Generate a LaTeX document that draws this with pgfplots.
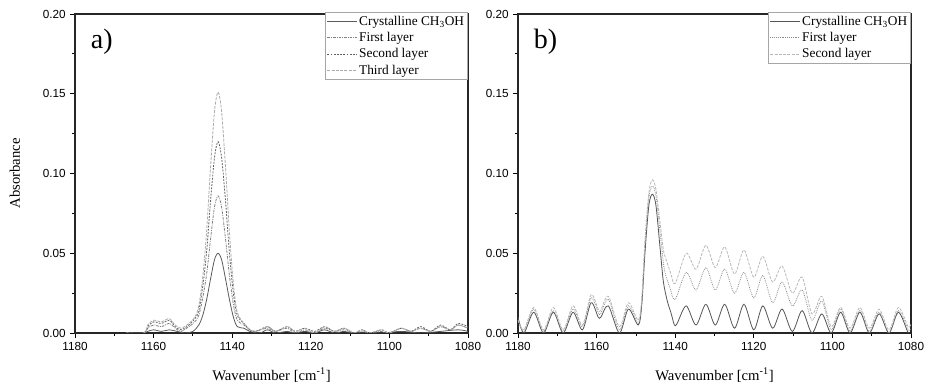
\documentclass[border=0pt]{standalone}
\usepackage{fontspec}
\setmainfont{Liberation Serif}
\newfontfamily\arialfont{Liberation Sans}
\usepackage{pgfplots}
\pgfplotsset{compat=1.18}
\usepackage{pgfplotstable}

\definecolor{cA}{HTML}{5A5A5A}
\definecolor{cB}{HTML}{808080}
\definecolor{cC}{HTML}{606060}
\definecolor{cD}{HTML}{ABABAB}
\definecolor{rA}{HTML}{555555}
\definecolor{rB}{HTML}{8A8A8A}
\definecolor{rC}{HTML}{B8B8B8}

% ---------- panel a ----------
\pgfplotstableread{
x y
1167 0
1162.5 0
1161.5 0.001
1160 0.002
1158 0.001
1156 0.002
1154 0.001
1152 0.000
1150 0.001
1148.5 0.005
1147.5 0.011
1146.5 0.021
1145.5 0.034
1144.5 0.046
1143.6 0.050
1142.7 0.046
1141.7 0.034
1140.7 0.021
1139.7 0.010
1138.7 0.004
1137 0.003
1135.5 0.001
1133 0.000
1131 0.002
1129 0.000
1126 0.001
1124 0.000
1121.5 0.001
1119 0.000
1116.5 0.002
1114 0.000
1111.5 0.001
1109 0.000
1102 0.000
1097 0.001
1092 0.000
1087 0.001
1082.5 0.002
1080 0.001
}\tAcry
\pgfplotstableread{
x y
1167 0
1162.5 0
1161.5 0.003
1160 0.005
1158 0.004
1156 0.006
1154.5 0.003
1153 0.001
1151 0.004
1149.5 0.007
1148.5 0.011
1147.5 0.022
1146.5 0.037
1145.5 0.059
1144.5 0.079
1143.6 0.086
1142.7 0.079
1141.7 0.059
1140.7 0.036
1139.7 0.018
1138.7 0.008
1137 0.005
1135.5 0.002
1134 0.001
1131 0.003
1129 0.001
1126 0.003
1124 0.000
1121.5 0.002
1119 0.000
1116.5 0.003
1114 0.001
1111.5 0.002
1109 0.000
1107 0.001
1105 0.000
1102 0.001
1100 0.000
1097 0.003
1094.5 0.001
1092 0.003
1089.5 0.001
1087 0.004
1084.5 0.002
1082.5 0.005
1080 0.003
}\tAfirst
\pgfplotstableread{
x y
1167 0
1162.5 0
1161.5 0.004
1160 0.007
1158 0.006
1156 0.008
1154.5 0.004
1153 0.002
1151 0.005
1149.5 0.009
1148.5 0.014
1147.5 0.029
1146.5 0.051
1145.5 0.083
1144.5 0.110
1143.6 0.120
1142.7 0.110
1141.7 0.083
1140.7 0.050
1139.7 0.025
1138.7 0.011
1137 0.006
1135.5 0.002
1134 0.001
1131 0.004
1129 0.001
1126 0.004
1124 0.001
1121.5 0.003
1119 0.001
1116.5 0.004
1114 0.001
1111.5 0.003
1109 0.000
1107 0.002
1105 0.000
1102 0.002
1100 0.000
1097 0.003
1094.5 0.001
1092 0.004
1089.5 0.001
1087 0.005
1084.5 0.002
1082.5 0.006
1080 0.004
}\tAsecond
\pgfplotstableread{
x y
1167 0
1162.5 0
1161.5 0.005
1160 0.008
1158 0.007
1156 0.009
1154.5 0.005
1153 0.003
1151 0.006
1149.5 0.010
1148.5 0.017
1147.5 0.035
1146.5 0.064
1145.5 0.104
1144.5 0.139
1143.6 0.151
1142.7 0.139
1141.7 0.104
1140.7 0.063
1139.7 0.031
1138.7 0.013
1137 0.006
1135.5 0.002
1134 0.001
1131 0.004
1129 0.001
1126 0.004
1124 0.001
1121.5 0.003
1119 0.000
1116.5 0.004
1114 0.001
1111.5 0.003
1109 0.000
1107 0.002
1105 0.000
1102 0.002
1100 0.000
1097 0.003
1094.5 0.001
1092 0.003
1089.5 0.001
1087 0.004
1084.5 0.002
1082.5 0.005
1080 0.003
}\tAthird

% ---------- panel b ----------
\pgfplotstableread{
x y
1180 0.010
1178.5 0.000
1176.0 0.013
1173.5 0.000
1171.0 0.013
1168.5 0.000
1166.0 0.013
1163.6 0.002
1161.4 0.019
1159.6 0.010
1158.9 0.010
1157.0 0.017
1154.2 0.000
1151.9 0.015
1149.4 0.005
1148.5 0.018
1147.7 0.050
1146.7 0.080
1145.8 0.087
1144.9 0.080
1143.8 0.052
1143.0 0.032
1142.0 0.020
1141.0 0.012
1140.2 0.005
1139.5 0.006
1137.2 0.017
1134.7 0.005
1132.2 0.018
1129.8 0.005
1127.4 0.018
1124.9 0.003
1122.5 0.018
1120.0 0.002
1117.7 0.017
1115.2 0.003
1112.8 0.015
1110.2 0.001
1107.7 0.014
1105.2 0.000
1102.7 0.012
1100.3 0.000
1097.9 0.013
1095.5 0.000
1093.0 0.013
1090.6 0.000
1088.1 0.012
1085.6 0.000
1083.2 0.013
1080.7 0.000
1080 0.000
}\tBcry
\pgfplotstableread{
x y
1180 0.008
1178.5 0.001
1176.0 0.015
1173.5 0.001
1171.0 0.014
1168.5 0.001
1166.0 0.015
1163.6 0.004
1161.4 0.022
1159.6 0.013
1159.0 0.012
1157.0 0.021
1154.2 0.002
1151.9 0.017
1149.4 0.006
1148.5 0.020
1147.7 0.055
1146.7 0.085
1145.8 0.092
1144.9 0.086
1143.8 0.062
1143.0 0.044
1142.5 0.037
1141.3 0.028
1140.0 0.021
1137.2 0.038
1134.7 0.027
1132.2 0.041
1129.8 0.027
1127.4 0.040
1124.9 0.025
1122.5 0.038
1120.0 0.022
1117.7 0.036
1115.2 0.019
1112.8 0.032
1110.2 0.017
1107.7 0.027
1105.2 0.008
1102.7 0.020
1100.3 0.002
1097.9 0.015
1095.5 0.001
1093.0 0.014
1090.6 0.001
1088.1 0.013
1085.6 0.000
1083.2 0.014
1080.7 0.002
1080 0.003
}\tBfirst
\pgfplotstableread{
x y
1180 0.008
1178.5 0.002
1176.0 0.016
1173.5 0.002
1171.0 0.016
1168.5 0.002
1166.0 0.017
1163.6 0.005
1161.4 0.024
1159.6 0.015
1159.0 0.014
1157.0 0.023
1154.2 0.004
1151.9 0.019
1149.4 0.008
1148.5 0.022
1147.7 0.058
1146.7 0.088
1145.8 0.096
1144.9 0.090
1143.8 0.068
1143.0 0.052
1142.3 0.046
1141.2 0.038
1140.0 0.031
1137.2 0.050
1134.7 0.040
1132.2 0.055
1129.8 0.041
1127.4 0.054
1124.9 0.037
1122.5 0.052
1120.0 0.035
1117.7 0.048
1115.2 0.032
1112.8 0.042
1110.2 0.025
1107.7 0.035
1105.2 0.012
1102.7 0.023
1100.3 0.004
1097.9 0.016
1095.5 0.003
1093.0 0.016
1090.6 0.003
1088.1 0.015
1085.6 0.002
1083.2 0.016
1080.7 0.004
1080 0.006
}\tBsecond

\pgfplotsset{
  panel/.style={
    scale only axis,
    width=294.75pt, height=239.25pt,
    x dir=reverse,
    xmin=1080, xmax=1180,
    ymin=0, ymax=0.20,
    xtick={1080,1100,...,1180},
    ytick={0,0.05,...,0.20},
    minor x tick num=1,
    minor y tick num=1,
    tick align=outside,
    xtick pos=bottom, ytick pos=left,
    major tick length=3.5pt,
    minor tick length=2pt,
    axis line style={black!85, line width=0.8pt},
    every tick/.style={black, line width=0.6pt},
    /pgf/number format/assume math mode=true,
    tick label style={font=\arialfont\fontsize{8.8}{10}\selectfont},
    xticklabel style={/pgf/number format/.cd, set thousands separator={}},
    yticklabel style={/pgf/number format/.cd, fixed, fixed zerofill, precision=2},
    xlabel={Wavenumber [cm\textsuperscript{-1}]},
    x label style={at={(axis description cs:0.5,-0.1317)}, anchor=center, font=\fontsize{11}{12}\selectfont},
    y label style={at={(axis description cs:-0.153,0.5)}, anchor=center, font=\fontsize{11}{12}\selectfont},
    legend cell align=left,
    legend style={at={(1,1)}, anchor=north east, yshift=1.5pt,
      draw=gray!70, line width=0.6pt, fill=white,
      font=\fontsize{10}{11}\selectfont, inner sep=1pt, row sep=0.6pt,
      nodes={inner sep=1.6pt}},
    legend image code/.code={\draw[#1] (0pt,0pt) -- (22pt,0pt);},
    every axis plot/.append style={line width=0.6pt, smooth, tension=0.5},
  }
}

\begin{document}
\begin{tikzpicture}
\begin{axis}[panel, ylabel={Absorbance}]
\addplot[cA] table[x=x,y=y] {\tAcry};
\addlegendentry{Crystalline CH\textsubscript{3}OH}
\addplot[cB, dash pattern=on 2pt off 0.8pt on 0.6pt off 0.8pt] table[x=x,y=y] {\tAfirst};
\addlegendentry{First layer}
\addplot[cC, dash pattern=on 1.4pt off 1pt] table[x=x,y=y] {\tAsecond};
\addlegendentry{Second layer}
\addplot[cD, dash pattern=on 2.2pt off 1pt] table[x=x,y=y] {\tAthird};
\addlegendentry{Third layer}
\node[anchor=north west, inner sep=0pt, font=\fontsize{21}{21}\selectfont] at (rel axis cs:0.04,0.955) {a)};
\end{axis}
\begin{axis}[panel, at={(332.25pt,0pt)}]
\addplot[rA] table[x=x,y=y] {\tBcry};
\addlegendentry{Crystalline CH\textsubscript{3}OH}
\addplot[rB, dash pattern=on 0.6pt off 0.8pt] table[x=x,y=y] {\tBfirst};
\addlegendentry{First layer}
\addplot[rC, dash pattern=on 2.2pt off 1pt] table[x=x,y=y] {\tBsecond};
\addlegendentry{Second layer}
\node[anchor=north west, inner sep=0pt, font=\fontsize{21}{21}\selectfont] at (rel axis cs:0.04,0.955) {b)};
\end{axis}
\pgfresetboundingbox
\path[use as bounding box] (-56.25pt,-38.25pt) rectangle (637.5pt,249.75pt);
\end{tikzpicture}
\end{document}
